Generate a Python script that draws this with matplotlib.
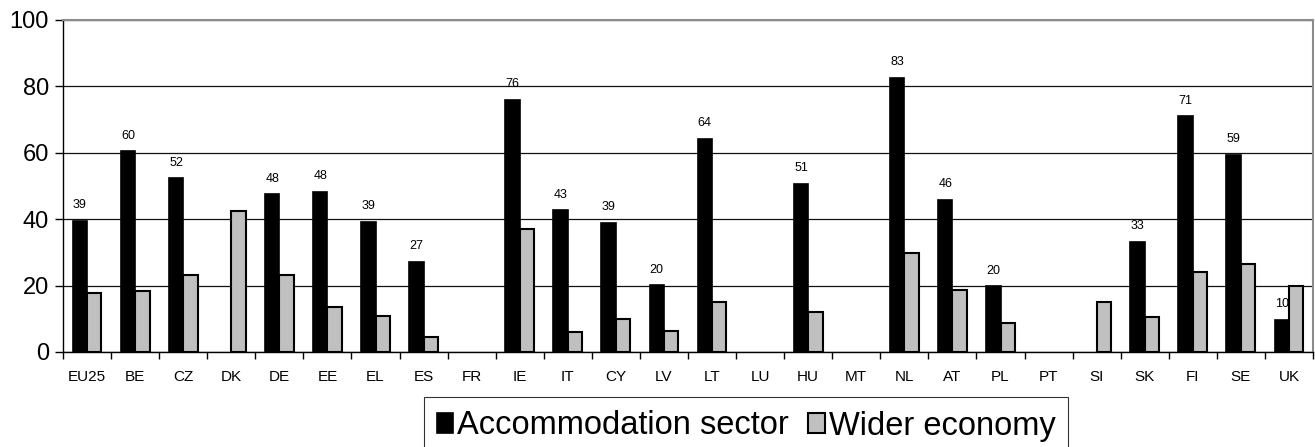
import numpy as np
import matplotlib
matplotlib.use("Agg")
import matplotlib.pyplot as plt

plt.rcParams['font.family'] = ['Liberation Sans', 'DejaVu Sans']

countries = ["EU25", "BE", "CZ", "DK", "DE", "EE", "EL", "ES", "FR", "IE", "IT", "CY", "LV",
             "LT", "LU", "HU", "MT", "NL", "AT", "PL", "PT", "SI", "SK", "FI", "SE", "UK"]
accommodation = [39.4, 60.4, 52.3, np.nan, 47.5, 48.3, 39.3, 27.1, np.nan, 76.0, 42.7, 38.8, 20.1,
                 64.2, np.nan, 50.6, np.nan, 82.6, 45.8, 19.8, np.nan, np.nan, 33.1, 71.0, 59.3, 9.7]
wider_economy = [17.9, 18.4, 23.1, 42.5, 23.3, 13.6, 10.8, 4.4, np.nan, 37.0, 5.9, 9.8, 6.2,
                 15.2, np.nan, 12.0, np.nan, 29.7, 18.7, 8.6, np.nan, 15.0, 10.6, 24.2, 26.4, 20.0]
acc_labels = ["39", "60", "52", "", "48", "48", "39", "27", "", "76", "43", "39", "20",
              "64", "", "51", "", "83", "46", "20", "", "", "33", "71", "59", "10"]
series_names = ["Accommodation sector", "Wider economy"]
yticks = [0, 20, 40, 60, 80, 100]


def plot_chart():
    fig = plt.figure(figsize=(13.15, 4.47), dpi=100)
    ax = fig.add_axes([63 / 1315, 1 - 352 / 447, 1250 / 1315, 332 / 447])

    x = np.arange(len(countries))
    w = 0.3
    b1 = ax.bar(x - 0.15, accommodation, w, color="black", edgecolor="black",
                linewidth=1.2, zorder=3, label=series_names[0])
    b2 = ax.bar(x + 0.15, wider_economy, w, color="#c0c0c0", edgecolor="black",
                linewidth=1.5, zorder=3, label=series_names[1])

    # value labels sit behind the bars (UK label is partly hidden in the original)
    for xi, v, lab in zip(x, accommodation, acc_labels):
        if lab and not np.isnan(v):
            ax.annotate(lab, (xi - 0.15, v), xytext=(0, 7), textcoords="offset points",
                        ha="center", va="bottom", fontsize=9, zorder=1)

    ax.set_xlim(-0.5, len(countries) - 0.5)
    ax.set_ylim(0, 100)
    ax.set_yticks(yticks)
    ax.tick_params(axis="y", labelsize=17, length=6, width=1, pad=4)
    ax.set_xticks(x)
    ax.set_xticklabels(countries)
    ax.tick_params(axis="x", which="major", length=0, labelsize=11, pad=13)
    ax.set_xticks(np.arange(-0.5, len(countries), 1), minor=True)
    ax.tick_params(axis="x", which="minor", length=5, width=1)

    ax.grid(axis="y", color="#111111", linewidth=0.9, zorder=0)
    ax.set_axisbelow(True)
    for s in ["top", "right"]:
        ax.spines[s].set_color("#8c8c8c")
        ax.spines[s].set_linewidth(1.5)
    for s in ["left", "bottom"]:
        ax.spines[s].set_color("black")
        ax.spines[s].set_linewidth(1)

    leg = fig.legend(handles=[b1, b2], loc="center", bbox_to_anchor=(746 / 1315, 1 - 426 / 447),
                     ncol=2, fontsize=23.5, frameon=True, fancybox=False, edgecolor="black",
                     handlelength=0.5, handleheight=0.55, handletextpad=0.12,
                     columnspacing=0.6, borderpad=0.4, borderaxespad=0)
    leg.get_frame().set_linewidth(0.8)

    fig.savefig("out.png", dpi=100)


if __name__ == "__main__":
    plot_chart()
